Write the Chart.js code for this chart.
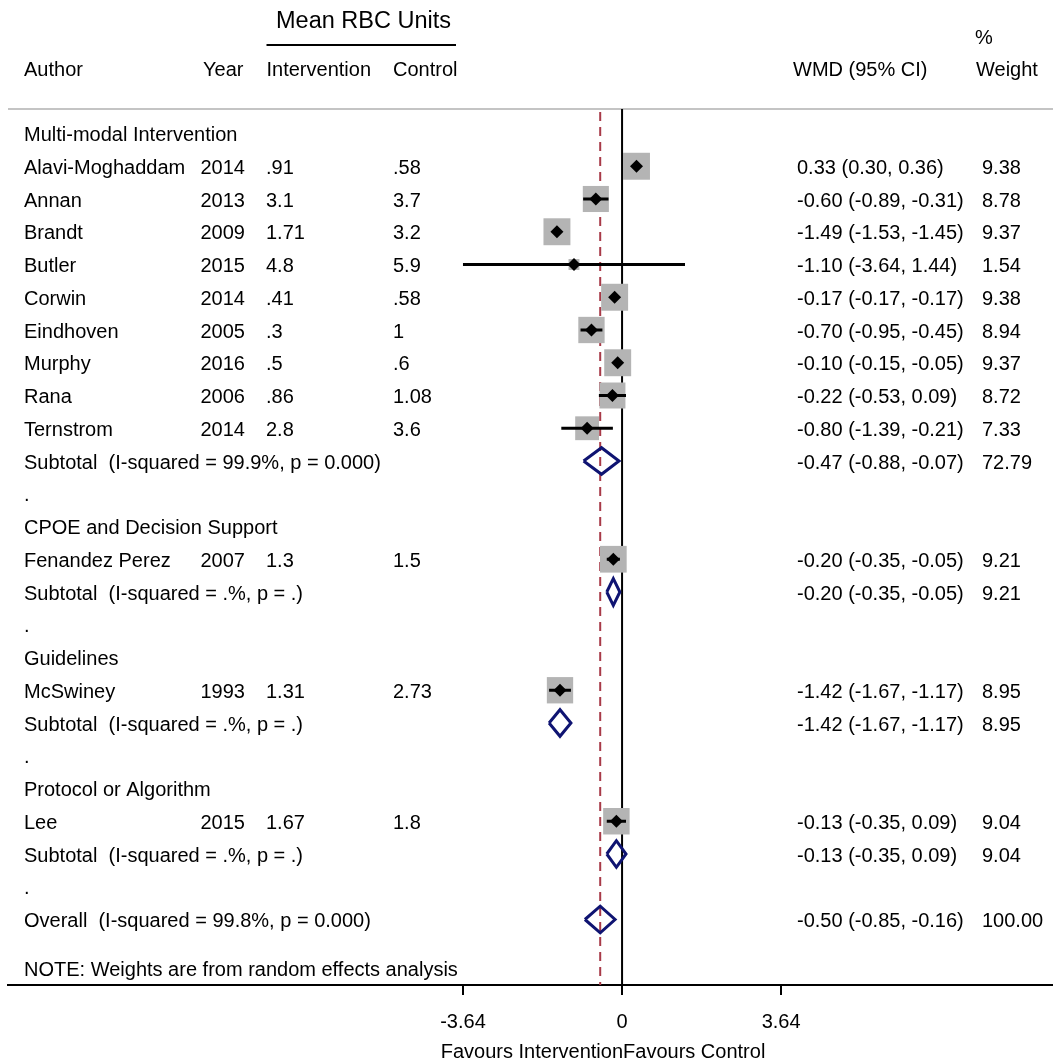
<!DOCTYPE html>
<html>
<head>
<meta charset="utf-8">
<script src="https://cdn.jsdelivr.net/npm/chart.js@4.4.1/dist/chart.umd.min.js"></script>
<style>
html, body { margin: 0; padding: 0; background: #fff; }
#wrap { position: relative; width: 1053px; height: 1061px; }
</style>
</head>
<body>
<div id="wrap"><canvas id="forest"></canvas></div>
<script>
// rows of the table, top to bottom
var rowLabels = [
    'Multi-modal Intervention', 'Alavi-Moghaddam', 'Annan', 'Brandt', 'Butler', 'Corwin',
    'Eindhoven', 'Murphy', 'Rana', 'Ternstrom', 'Subtotal  (I-squared = 99.9%, p = 0.000)', '.',
    'CPOE and Decision Support', 'Fenandez Perez', 'Subtotal  (I-squared = .%, p = .)', '.',
    'Guidelines', 'McSwiney', 'Subtotal  (I-squared = .%, p = .)', '.',
    'Protocol or Algorithm', 'Lee', 'Subtotal  (I-squared = .%, p = .)', '.',
    'Overall  (I-squared = 99.8%, p = 0.000)'
];
var rowKind = ['group', 'study', 'study', 'study', 'study', 'study', 'study', 'study', 'study', 'study', 'sub', 'blank',
    'group', 'study', 'sub', 'blank', 'group', 'study', 'sub', 'blank', 'group', 'study', 'sub', 'blank', 'overall'];
var years = [null, 2014, 2013, 2009, 2015, 2014, 2005, 2016, 2006, 2014, null, null,
    null, 2007, null, null, null, 1993, null, null, null, 2015, null, null, null];
var intervention = [null, 0.91, 3.1, 1.71, 4.8, 0.41, 0.3, 0.5, 0.86, 2.8, null, null,
    null, 1.3, null, null, null, 1.31, null, null, null, 1.67, null, null, null];
var control = [null, 0.58, 3.7, 3.2, 5.9, 0.58, 1, 0.6, 1.08, 3.6, null, null,
    null, 1.5, null, null, null, 2.73, null, null, null, 1.8, null, null, null];
var wmd = [null, 0.33, -0.60, -1.49, -1.10, -0.17, -0.70, -0.10, -0.22, -0.80, -0.47, null,
    null, -0.20, -0.20, null, null, -1.42, -1.42, null, null, -0.13, -0.13, null, -0.50];
var ciLow = [null, 0.30, -0.89, -1.53, -3.64, -0.17, -0.95, -0.15, -0.53, -1.39, -0.88, null,
    null, -0.35, -0.35, null, null, -1.67, -1.67, null, null, -0.35, -0.35, null, -0.85];
var ciHigh = [null, 0.36, -0.31, -1.45, 1.44, -0.17, -0.45, -0.05, 0.09, -0.21, -0.07, null,
    null, -0.05, -0.05, null, null, -1.17, -1.17, null, null, 0.09, 0.09, null, -0.16];
var weights = [null, 9.38, 8.78, 9.37, 1.54, 9.38, 8.94, 9.37, 8.72, 7.33, 72.79, null,
    null, 9.21, 9.21, null, null, 8.95, 8.95, null, null, 9.04, 9.04, null, 100.00];
var xTicks = [-3.64, 0, 3.64];
var overallWmd = -0.50;

var FONT = '20px "Liberation Sans", Arial, Helvetica, sans-serif';
var Y_MIN = -0.748, Y_MAX = 26.0;
var DIAMOND_H = 0.406;

// build plotting series from the rows
var boxPts = [], estPts = [], ciPts = [], diaPts = [], boxSize = [];
for (var i = 0; i < rowKind.length; i++) {
    if (rowKind[i] === 'study') {
        boxPts.push({ x: wmd[i], y: i });
        boxSize.push(8.8 * Math.sqrt(weights[i]) / Math.SQRT2);
        estPts.push({ x: wmd[i], y: i });
        ciPts.push({ x: ciLow[i], y: i }, { x: ciHigh[i], y: i }, { x: ciHigh[i], y: null });
    } else if (rowKind[i] === 'sub' || rowKind[i] === 'overall') {
        diaPts.push({ x: ciLow[i], y: i }, { x: wmd[i], y: i - DIAMOND_H }, { x: ciHigh[i], y: i },
            { x: wmd[i], y: i + DIAMOND_H }, { x: ciLow[i], y: i }, { x: ciLow[i], y: null });
    }
}

function fmtMean(v) {
    return String(v).replace(/^0\./, '.');
}
function fmtWmd(i) {
    return wmd[i].toFixed(2) + ' (' + ciLow[i].toFixed(2) + ', ' + ciHigh[i].toFixed(2) + ')';
}

var tablePlugin = {
    id: 'tableText',
    beforeDatasetsDraw: function (chart) {
        var c = chart.ctx, a = chart.chartArea;
        c.save();
        // grey rule under the header
        c.strokeStyle = '#c4c4c4';
        c.lineWidth = 2;
        c.beginPath();
        c.moveTo(a.left, a.top);
        c.lineTo(a.right, a.top);
        c.stroke();
        c.restore();
    },
    afterDraw: function (chart) {
        var c = chart.ctx;
        var ys = chart.scales.y, xs = chart.scales.x;
        c.save();
        c.fillStyle = '#000';
        c.textBaseline = 'middle';
        c.textAlign = 'center';
        c.font = '23.5px "Liberation Sans", Arial, Helvetica, sans-serif';
        c.fillText('Mean RBC Units', 363.5, 22);
        c.strokeStyle = '#000';
        c.lineWidth = 2;
        c.beginPath();
        c.moveTo(266.5, 45);
        c.lineTo(456, 45);
        c.stroke();

        c.font = FONT;
        c.textAlign = 'left';
        c.fillText('Author', 24, 70);
        c.fillText('Year', 203, 70);
        c.fillText('Intervention', 266.5, 70);
        c.fillText('Control', 393, 70);
        c.fillText('WMD (95% CI)', 793, 70);
        c.fillText('%', 975, 38);
        c.fillText('Weight', 976, 70);

        for (var i = 0; i < rowLabels.length; i++) {
            var y = ys.getPixelForValue(i) + 2;
            c.fillText(rowLabels[i], 24, y);
            if (years[i] !== null) c.fillText(String(years[i]), 200.5, y);
            if (intervention[i] !== null) c.fillText(fmtMean(intervention[i]), 266, y);
            if (control[i] !== null) c.fillText(fmtMean(control[i]), 393, y);
            if (wmd[i] !== null) {
                c.fillText(fmtWmd(i), 797, y);
                c.fillText(weights[i].toFixed(2), 982, y);
            }
        }
        c.fillText('NOTE: Weights are from random effects analysis', 24, 970);

        var x0 = xs.getPixelForValue(0) + 1;
        c.textAlign = 'right';
        c.fillText('Favours Intervention', x0, 1052);
        c.textAlign = 'left';
        c.fillText('Favours Control', x0, 1052);
        c.restore();
    }
};

new Chart(document.getElementById('forest'), {
    type: 'scatter',
    data: {
        datasets: [
            {
                type: 'line', data: [{ x: 0, y: Y_MIN }, { x: 0, y: Y_MAX }],
                borderColor: '#000', borderWidth: 2, pointRadius: 0, order: 6
            },
            {
                type: 'line', data: [{ x: overallWmd, y: -0.66 }, { x: overallWmd, y: Y_MAX }],
                borderColor: '#a83a48', borderWidth: 2, borderDash: [9, 6], pointRadius: 0, order: 5
            },
            {
                data: boxPts, pointStyle: 'rect', pointRadius: boxSize,
                backgroundColor: '#b4b4b4', borderWidth: 0, order: 4
            },
            {
                type: 'line', data: ciPts, spanGaps: false,
                borderColor: '#000', borderWidth: 3, pointRadius: 0, order: 3
            },
            {
                data: estPts, pointStyle: 'rectRot', pointRadius: 6.5,
                backgroundColor: '#000', borderWidth: 0, order: 2
            },
            {
                type: 'line', data: diaPts, spanGaps: false,
                borderColor: '#0f1472', borderWidth: 3, borderJoinStyle: 'miter', pointRadius: 0, order: 1
            }
        ]
    },
    options: {
        responsive: true,
        maintainAspectRatio: false,
        animation: false,
        layout: { autoPadding: false, padding: { top: 109, left: 8, right: 0, bottom: 0 } },
        plugins: { legend: { display: false }, tooltip: { enabled: false } },
        scales: {
            x: {
                type: 'linear', min: -14.05, max: 9.86,
                afterBuildTicks: function (scale) {
                    scale.ticks = xTicks.map(function (v) { return { value: v }; });
                },
                afterFit: function (scale) { scale.height = 76; },
                grid: { drawOnChartArea: false, drawTicks: true, tickLength: 10, color: '#000', lineWidth: 2 },
                border: { display: true, color: '#000', width: 2 },
                ticks: {
                    padding: 15, color: '#000', maxRotation: 0,
                    font: { family: '"Liberation Sans", Arial, Helvetica, sans-serif', size: 20 },
                    callback: function (v) { return v === 0 ? '0' : v.toFixed(2); }
                }
            },
            y: {
                type: 'linear', reverse: true, min: Y_MIN, max: Y_MAX, display: false
            }
        }
    },
    plugins: [tablePlugin]
});
</script>
</body>
</html>
